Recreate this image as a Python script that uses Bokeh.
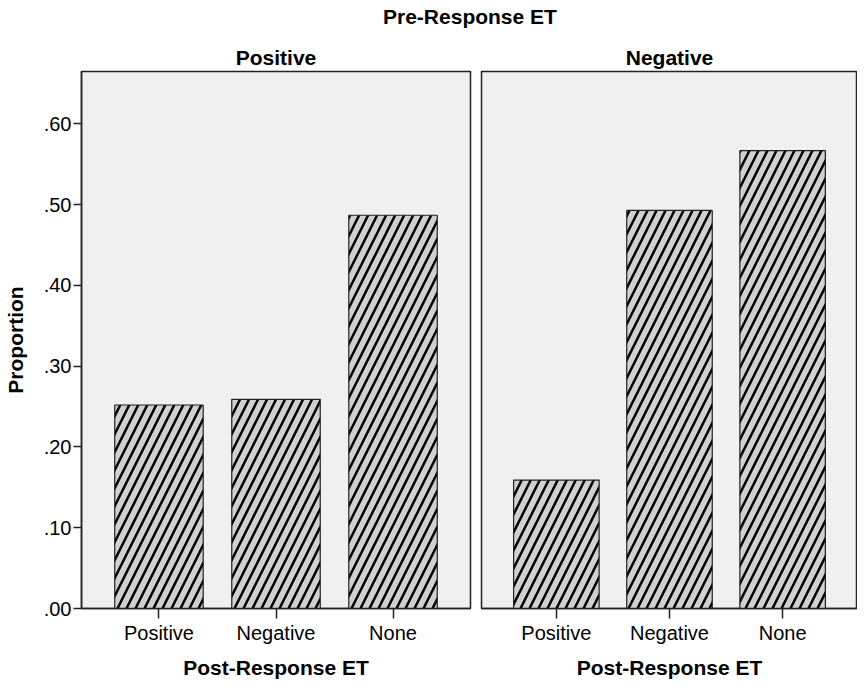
from bokeh.plotting import figure
from bokeh.models import ColumnDataSource, FactorRange, Range1d, FixedTicker, Div
from bokeh.layouts import column, row
from bokeh.embed import file_html
from bokeh.resources import INLINE

# ---- data ----
title_text = "Pre-Response ET"
panel_titles = ["Positive", "Negative"]
categories = ["Positive", "Negative", "None"]
values_positive = [0.252, 0.259, 0.487]
values_negative = [0.159, 0.493, 0.567]
y_ticks = [0.0, 0.1, 0.2, 0.3, 0.4, 0.5, 0.6]
y_tick_labels = [".00", ".10", ".20", ".30", ".40", ".50", ".60"]
x_label = "Post-Response ET"
y_label = "Proportion"

FONT = "Liberation Sans"
FRAME_BG = "#f0f0f0"
EDGE = "#222222"
Y_MAX = 0.665
FRAME_H = 537


def make_panel(title, vals, show_y, frame_w, border_left, border_right):
    p = figure(
        x_range=FactorRange(factors=categories, range_padding=0.108, range_padding_units="percent"),
        y_range=Range1d(0, Y_MAX),
        frame_width=frame_w, frame_height=FRAME_H,
        output_backend="svg", toolbar_location=None,
        title=title,
        min_border_left=border_left, min_border_right=border_right,
        min_border_top=0, min_border_bottom=0,
        y_axis_location="left" if show_y else None,
    )
    p.title.align = "center"
    p.title.text_font = FONT
    p.title.text_font_size = "21px"
    p.title.text_font_style = "bold"
    p.title.text_color = "black"
    p.title.standoff = 6

    p.background_fill_color = FRAME_BG
    p.border_fill_color = "white"
    p.outline_line_color = EDGE
    p.outline_line_width = 1.5
    p.xgrid.visible = False
    p.ygrid.visible = False

    src = ColumnDataSource(dict(cat=categories, val=vals))
    p.vbar(x="cat", top="val", width=0.756, source=src,
           fill_color="#d0d0d0", line_color=EDGE, line_width=1.2,
           hatch_pattern="/", hatch_scale=18, hatch_weight=2.5, hatch_color="black")

    xa = p.xaxis[0]
    xa.axis_label = x_label
    xa.axis_label_text_font = FONT
    xa.axis_label_text_font_size = "21px"
    xa.axis_label_text_font_style = "bold"
    xa.axis_label_text_color = "black"
    xa.axis_label_standoff = 9
    xa.major_label_text_font = FONT
    xa.major_label_text_font_size = "20px"
    xa.major_label_text_color = "black"
    xa.major_label_standoff = 3
    xa.major_tick_out = 10
    xa.major_tick_in = 0
    xa.major_tick_line_color = EDGE
    xa.major_tick_line_width = 1.5
    xa.axis_line_color = EDGE
    xa.axis_line_width = 1.5

    if show_y:
        ya = p.yaxis[0]
        ya.ticker = FixedTicker(ticks=y_ticks)
        ya.major_label_overrides = dict(zip(y_ticks, y_tick_labels))
        ya.axis_label = y_label
        ya.axis_label_text_font = FONT
        ya.axis_label_text_font_size = "21px"
        ya.axis_label_text_font_style = "bold"
        ya.axis_label_text_color = "black"
        ya.axis_label_standoff = 14
        ya.major_label_text_font = FONT
        ya.major_label_text_font_size = "20px"
        ya.major_label_text_color = "black"
        ya.major_label_standoff = 2
        ya.major_tick_out = 8
        ya.major_tick_in = 0
        ya.minor_tick_line_color = None
        ya.major_tick_line_color = EDGE
        ya.major_tick_line_width = 1.5
        ya.axis_line_color = EDGE
        ya.axis_line_width = 1.5
    return p


p1 = make_panel(panel_titles[0], values_positive, True, 389, 72, 5)
p2 = make_panel(panel_titles[1], values_negative, False, 376, 6, 0)

header = Div(
    text=('<div style="width:848px;box-sizing:border-box;padding-left:378px;'
          'font-family:\'Liberation Sans\';font-weight:bold;font-size:21px;'
          'line-height:24px;color:black;white-space:nowrap;">' + title_text + '</div>'),
    width=848, height=30,
)

layout = column(header, row(p1, p2, spacing=0), spacing=0)
open("out.html", "w").write(file_html(layout, INLINE))
